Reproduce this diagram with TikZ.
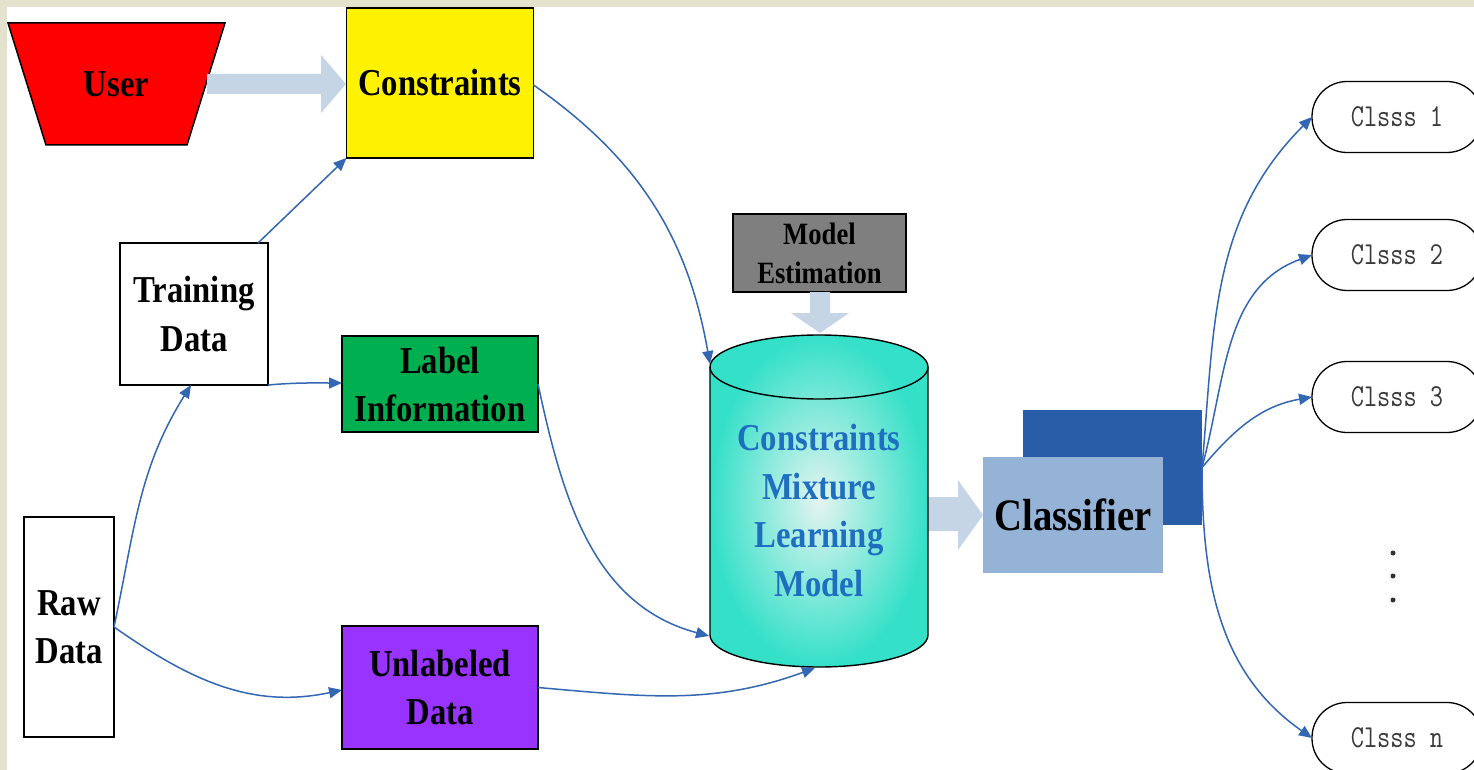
\documentclass[tikz,border=0pt]{standalone}
\usepackage{fontspec}
\setmainfont{Liberation Serif}
\newfontfamily\condfont[FakeStretch=0.86]{Liberation Serif}
\newfontfamily\clsssfont[FakeStretch=0.8]{Latin Modern Mono}
\usetikzlibrary{arrows.meta}
\definecolor{beige}{HTML}{E3E3CD}
\definecolor{cblue}{HTML}{3366B3}
\definecolor{lightarr}{HTML}{C6D5E6}
\definecolor{labelgreen}{HTML}{00B050}
\definecolor{unlpurple}{HTML}{9933FF}
\definecolor{modelgray}{HTML}{7F7F7F}
\definecolor{cylout}{HTML}{34E0C8}
\definecolor{cylin}{HTML}{E4F4F0}
\definecolor{cyltext}{HTML}{1F6FC0}
\definecolor{clslight}{HTML}{95B3D7}
\definecolor{clsdark}{HTML}{2A5DA8}
\definecolor{clstext}{HTML}{3A3A3A}
\tikzset{
  box/.style={draw=black, line width=1.5pt, inner sep=0pt, outer sep=0pt, align=center,
    font=\condfont\bfseries\fontsize{38}{48}\selectfont},
  conn/.style={draw=cblue, line width=1.5pt, -{Triangle[length=13pt,width=11pt]}},
  fatarrow/.style={fill=lightarr, draw=none},
  cls/.style={draw=black, line width=1.3pt, rounded corners=35pt, minimum width=170pt,
    minimum height=71pt, inner sep=0pt, outer sep=0pt,
    font=\clsssfont\fontsize{32}{32}\selectfont, text=clstext}
}
\begin{document}
\begin{tikzpicture}[x=1pt,y=-1pt]
\useasboundingbox (0,0) rectangle (1474,770);
\fill[beige] (0,0) rectangle (1474,770);
\fill[white] (7,7) rectangle (1474,770);

% User
\draw[fill=red, line width=1.5pt] (8,23) -- (225,23) -- (187,145) -- (46,145) -- cycle;
\node[font=\condfont\bfseries\fontsize{38}{48}\selectfont] (user) at (116.5,84) {User};

% boxes
\node[box, fill=yellow, minimum width=187pt, minimum height=150pt] (constraints) at (440,83) {Constraints};
\node[box, fill=white, minimum width=148pt, minimum height=142pt] (training) at (194,314) {Training\\Data};
\node[box, fill=labelgreen, minimum width=196pt, minimum height=96pt] (label) at (440,384) {Label\\Information};
\node[box, fill=white, minimum width=90pt, minimum height=220pt] (raw) at (69,627) {Raw\\Data};
\node[box, fill=unlpurple, minimum width=196pt, minimum height=123pt] (unlabeled) at (440,687.5) {Unlabeled\\Data};
\node[box, fill=modelgray, minimum width=173pt, minimum height=78pt,
  font=\condfont\bfseries\fontsize{31}{39}\selectfont] (model) at (819.5,253) {Model\\Estimation};

% fat arrows
\path[fatarrow] (207,74) -- (321,74) -- (321,55) -- (346,84) -- (321,113) -- (321,94) -- (207,94) -- cycle;
\path[fatarrow] (810,292) -- (810,313) -- (791,313) -- (820,333) -- (849,313) -- (830,313) -- (830,292) -- cycle;
\path[fatarrow] (928,497) -- (958,497) -- (958,480) -- (983,515) -- (958,550) -- (958,531) -- (928,531) -- cycle;

% cylinder
\shade[inner color=cylin, outer color=cylout]
  (710,367) -- (710,635) arc[start angle=180, end angle=360, x radius=109pt, y radius=32pt]
  -- (928,367) arc[start angle=0, end angle=180, x radius=109pt, y radius=32pt] -- cycle;
\draw[line width=1.4pt]
  (710,367) -- (710,635) arc[start angle=180, end angle=360, x radius=109pt, y radius=32pt]
  -- (928,367) arc[start angle=0, end angle=180, x radius=109pt, y radius=32pt] -- cycle;
\draw[line width=1.4pt] (710,367) arc[start angle=180, end angle=360, x radius=109pt, y radius=32pt];
\node[align=center, text=cyltext, font=\condfont\bfseries\fontsize{38}{48.5}\selectfont] (cyl) at (819,510.5)
  {Constraints\\Mixture\\Learning\\Model};
\coordinate (cylTL) at (710,364);
\coordinate (cylBL) at (709,636);
\coordinate (cylB) at (815,668);

% classifier
\node[fill=clsdark, minimum width=179pt, minimum height=115pt, inner sep=0pt, outer sep=0pt] (clsback) at (1112.5,467.5) {};
\node[fill=clslight, minimum width=180pt, minimum height=116pt, inner sep=0pt, outer sep=0pt,
  font=\condfont\bfseries\fontsize{45}{45}\selectfont] (classifier) at (1073,515) {Classifier};

% classes
\node[cls] (c1) at (1397,117) {Clsss 1};
\node[cls] (c2) at (1397,255) {Clsss 2};
\node[cls] (c3) at (1397,397) {Clsss 3};
\node[cls] (cn) at (1397,738) {Clsss n};
\fill[black!80] (1393,553) circle[radius=2.5pt];
\fill[black!80] (1393,576) circle[radius=2.5pt];
\fill[black!80] (1393,600) circle[radius=2.5pt];

% connectors
\draw[conn] ([xshift=-10pt]training.north east) -- (constraints.south west);
\draw[conn] (training.south east) to[out=5,in=180] ([yshift=1pt]label.west);
\draw[conn] (raw.east) to[out=78,in=238] ([xshift=-3pt]training.south);
\draw[conn] (raw.east) to[out=-35,in=192] ([yshift=-2.5pt]unlabeled.west);
\draw[conn] ([yshift=-2pt]constraints.east) to[out=-35,in=100] (cylTL);
\draw[conn] (label.east) to[out=-78,in=165] (cylBL);
\draw[conn] (unlabeled.east) to[out=-5,in=200] (cylB);
\draw[conn] (clsback.east) to[out=85,in=225] (c1.west);
\draw[conn] (clsback.east) to[out=75,in=200] (c2.west);
\draw[conn] (clsback.east) to[out=50,in=190] (c3.west);
\draw[conn] (clsback.east) to[out=-90,in=145] (cn.west);
\end{tikzpicture}
\end{document}
